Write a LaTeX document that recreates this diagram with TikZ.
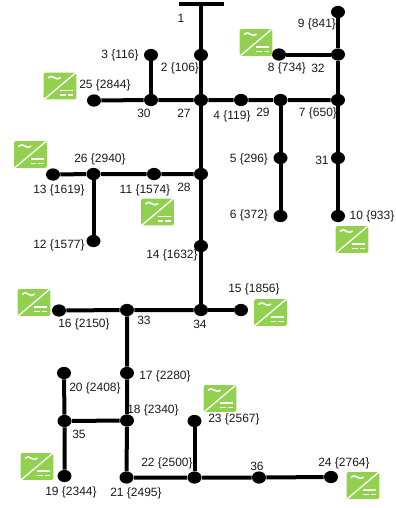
\documentclass[tikz,border=0pt]{standalone}
\usepackage{fontspec}
\setmainfont{Liberation Sans}
\usetikzlibrary{shapes.geometric}
\definecolor{pvgreen}{HTML}{92D050}
\definecolor{lbl}{HTML}{1A1A1A}
\tikzset{
  bus/.style={ellipse,fill=black,inner sep=0pt,minimum width=10.5pt,minimum height=9.2pt},
  line/.style={line width=3pt,black},
  lab/.style={inner sep=0pt,font=\fontsize{9}{9}\selectfont,text=lbl},
  pvicon/.style={rounded corners=1.5pt,fill=pvgreen,inner sep=0pt,minimum width=24.4pt,minimum height=20.2pt,
    path picture={
      \begin{scope}[shift={(path picture bounding box.center)},x=0.75pt,y=-0.75pt,white,rounded corners=0pt]
        \draw[line width=1pt] (-16,13.5) -- (16,-13.5);
        \draw[line width=1.2pt] (-12,-8) .. controls (-9,-10.5) and (-7,-9.5) .. (-5,-8) .. controls (-3,-6.5) and (-1,-7) .. (0.5,-8.5);
        \draw[line width=1.1pt] (0,4.5) -- (13,4.5);
        \draw[line width=1.1pt] (0,9) -- (5.5,9) (7.5,9) -- (13,9);
      \end{scope}
    }},
}
\begin{document}
\begin{tikzpicture}[x=0.75pt,y=-0.75pt]
\useasboundingbox (0,0) rectangle (396,508);
% lines run between coordinates first, so that the buses lie on top
\foreach \n/\x/\y in {b2/201/55,b27/201/100,b30/151/100,b3/151/55,b25/94/100.5,b4/241/100,b29/280.5/100,b7/338/100,b32/338/54.5,b9/338/12,b8/279/54.5,b5/280.5/158,b6/280.5/216,b31/338/158,b10/338/216,b28/201/174,b11/154/174,b26/93.5/174,b13/53/174.5,b12/93.5/241,b14/201/246,b34/201/310,b15/241/310,b33/127/310,b16/59/310.5,b17/127/373,b18/127/420.5,b35/64.5/421,b20/64/373,b19/64.5/476,b21/126.5/477.5,b22/194.5/477.5,b23/194.5/421,b36/259/477.5,b24/331/477}
  \node[bus] (\n) at (\x,\y) {};
\coordinate (b1l) at (179,4);
\coordinate (b1r) at (224,4);
\coordinate (b1) at (201,4);
\draw[line] (b1l) -- (b1r);
\draw[line] (b1) -- (b2) -- (b27) -- (b28) -- (b14) -- (b34) -- (b15);
\draw[line] (b3) -- (b30);
\draw[line] (b25) -- (b30) -- (b27) -- (b4) -- (b29) -- (b7);
\draw[line] (b9) -- (b32) -- (b7) -- (b31) -- (b10);
\draw[line] (b8) -- (b32);
\draw[line] (b29) -- (b5) -- (b6);
\draw[line] (b13) -- (b26) -- (b11) -- (b28);
\draw[line] (b26) -- (b12);
\draw[line] (b16) -- (b33) -- (b34);
\draw[line] (b33) -- (b17) -- (b18) -- (b21) -- (b22) -- (b36) -- (b24);
\draw[line] (b22) -- (b23);
\draw[line] (b18) -- (b35);
\draw[line] (b20) -- (b35) -- (b19);
% labels
\foreach \n/\x/\y/\t in {l1/181/18/{1},l2/180/68/{2 \{106\}},l3/120/55/{3 \{116\}},l25/105/85/{25 \{2844\}},l30/144/113/{30},l27/184/113/{27},l4/232/116/{4 \{119\}},l29/263/112/{29},l7/318/113/{7 \{650\}},l8/287/68/{8 \{734\}},l32/318/68/{32},l9/317/24/{9 \{841\}},l5/249/159/{5 \{296\}},l6/249/215/{6 \{372\}},l31/322/160/{31},l10/372/216/{10 \{933\}},l26/100/159/{26 \{2940\}},l13/59/190/{13 \{1619\}},l11/145/190/{11 \{1574\}},l28/184/187/{28},l12/59/245/{12 \{1577\}},l14/172/255/{14 \{1632\}},l15/254/289/{15 \{1856\}},l16/84/324/{16 \{2150\}},l33/144/320/{33},l34/200/324/{34},l17/165/376/{17 \{2280\}},l20/95/388/{20 \{2408\}},l18/153/410/{18 \{2340\}},l35/79/434/{35},l19/71/492/{19 \{2344\}},l21/136/493/{21 \{2495\}},l22/167/463/{22 \{2500\}},l23/234/419/{23 \{2567\}},l36/257/466/{36},l24/344/463/{24 \{2764\}}}
  \node[lab] (\n) at (\x,\y) {\t};
% PV icons
\foreach \n/\x/\y in {p25/60/86,p8/256/42.5,p13/30.5/154.5,p11/157.5/212,p10/352/239.5,p16/34/302.5,p15/270.5/312.5,p23/220/398.5,p19/37/466.5,p24/363/485.5}
  \node[pvicon] (\n) at (\x,\y) {};
\end{tikzpicture}
\end{document}
